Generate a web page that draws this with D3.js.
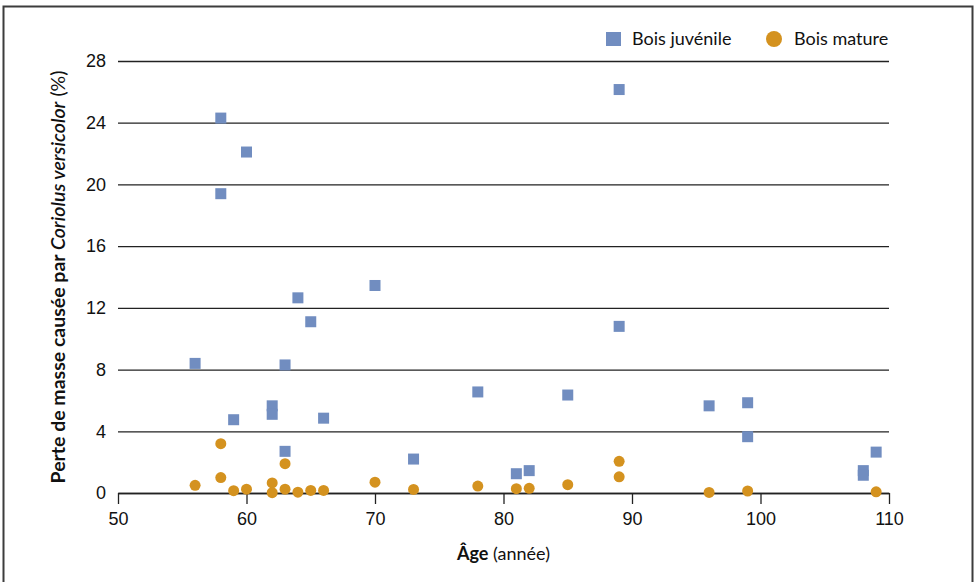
<!DOCTYPE html>
<html lang="fr">
<head>
<meta charset="utf-8">
<script src="https://cdn.jsdelivr.net/npm/d3@7"></script>
<style>
  body { margin: 0; background: #ffffff; }
  svg { display: block; font-family: Lato, 'Open Sans', sans-serif; }
</style>
</head>
<body>
<div id="content"></div>
<script>
// Bois juvénile (carrés)
const juvAge  = [56, 58, 58, 59, 60, 62, 62, 63, 63, 64, 65, 66, 70, 73, 78, 81, 82, 85, 89, 89, 96, 99, 99, 108, 108, 109];
const juvLoss = [8.4, 24.3, 19.4, 4.75, 22.1, 5.65, 5.1, 8.3, 2.7, 12.65, 11.1, 4.85, 13.45, 2.2, 6.55, 1.25, 1.45, 6.35, 26.15, 10.8, 5.65, 5.85, 3.65, 1.45, 1.15, 2.65];

// Bois mature (cercles)
const matAge  = [56, 58, 58, 59, 60, 62, 62, 63, 63, 64, 65, 66, 70, 73, 78, 81, 82, 85, 89, 89, 96, 99, 109];
const matLoss = [0.5, 3.2, 1.0, 0.15, 0.25, 0.65, 0.02, 1.9, 0.25, 0.05, 0.17, 0.17, 0.7, 0.23, 0.45, 0.28, 0.3, 0.54, 2.05, 1.05, 0.04, 0.13, 0.08];

const xTicks = [50, 60, 70, 80, 90, 100, 110];
const yTicks = [0, 4, 8, 12, 16, 20, 24, 28];

const seriesNames = ['Bois juvénile', 'Bois mature'];
const blue = '#718dc0';
const orange = '#d4921f';

const width = 975;
const height = 582;
const margin = { top: 61, right: 86, bottom: 89, left: 118 };

const svg = d3.select('#content')
    .append('svg')
    .attr('width', width)
    .attr('height', height);

// cadre autour du graphique
svg.append('rect')
    .attr('x', 3.5)
    .attr('y', 6.5)
    .attr('width', 969)
    .attr('height', 600)
    .attr('fill', 'none')
    .attr('stroke', '#3c3c3c')
    .attr('stroke-width', 2);

const x = d3.scaleLinear()
    .domain([50, 110])
    .range([margin.left, width - margin.right]);

const y = d3.scaleLinear()
    .domain([0, 28])
    .range([height - margin.bottom, margin.top]);

// lignes horizontales
svg.append('g')
    .attr('transform', `translate(${margin.left},0)`)
    .call(d3.axisLeft(y).tickValues(yTicks).tickSize(-(x.range()[1] - margin.left)).tickSizeOuter(0).tickPadding(12))
    .call(g => g.select('.domain').remove())
    .call(g => g.selectAll('.tick line').attr('stroke', '#222').attr('stroke-width', 1.3))
    .call(g => g.selectAll('.tick text')
        .attr('fill', '#111')
        .style('font-size', '18px'));

// axe x
svg.append('g')
    .attr('transform', `translate(0,${y(0)})`)
    .call(d3.axisBottom(x).tickValues(xTicks).tickSize(11).tickSizeOuter(0).tickPadding(8))
    .call(g => g.select('.domain').attr('stroke', '#222').attr('stroke-width', 1.3))
    .call(g => g.selectAll('.tick line').attr('stroke', '#222').attr('stroke-width', 1.3))
    .call(g => g.selectAll('.tick text')
        .attr('fill', '#111')
        .style('font-size', '18px'));

// points
const sq = 11;
svg.append('g')
    .selectAll('rect')
    .data(juvAge.map((a, i) => [a, juvLoss[i]]))
    .enter()
    .append('rect')
    .attr('x', d => x(d[0]) - sq / 2)
    .attr('y', d => y(d[1]) - sq / 2)
    .attr('width', sq)
    .attr('height', sq)
    .attr('fill', blue);

svg.append('g')
    .selectAll('circle')
    .data(matAge.map((a, i) => [a, matLoss[i]]))
    .enter()
    .append('circle')
    .attr('cx', d => x(d[0]))
    .attr('cy', d => y(d[1]))
    .attr('r', 5.5)
    .attr('fill', orange);

// titre de l'axe x
const xTitle = svg.append('text')
    .attr('x', (margin.left + x.range()[1]) / 2)
    .attr('y', 560)
    .attr('text-anchor', 'middle')
    .attr('fill', '#111')
    .style('font-size', '18px');
xTitle.append('tspan').style('font-weight', 'bold').text('Âge');
xTitle.append('tspan').text(' (année)');

// titre de l'axe y
const yTitle = svg.append('text')
    .attr('transform', `translate(65,${(y(0) + y(28)) / 2}) rotate(-90)`)
    .attr('text-anchor', 'middle')
    .attr('fill', '#111')
    .style('font-size', '19.5px');
yTitle.append('tspan').style('font-weight', 'bold').text('Perte de masse causée par ');
yTitle.append('tspan').style('font-style', 'italic').style('font-weight', '600').text('Coriolus versicolor');
yTitle.append('tspan').text(' (%)');

// légende
const legend = svg.append('g').attr('id', 'legend');
legend.append('rect')
    .attr('x', 606)
    .attr('y', 32)
    .attr('width', 15)
    .attr('height', 14)
    .attr('fill', blue);
legend.append('text')
    .attr('x', 632)
    .attr('y', 45)
    .attr('fill', '#111')
    .style('font-size', '18px')
    .text(seriesNames[0]);
legend.append('circle')
    .attr('cx', 774)
    .attr('cy', 39)
    .attr('r', 8)
    .attr('fill', orange);
legend.append('text')
    .attr('x', 794)
    .attr('y', 45)
    .attr('fill', '#111')
    .style('font-size', '18px')
    .text(seriesNames[1]);
</script>
</body>
</html>
